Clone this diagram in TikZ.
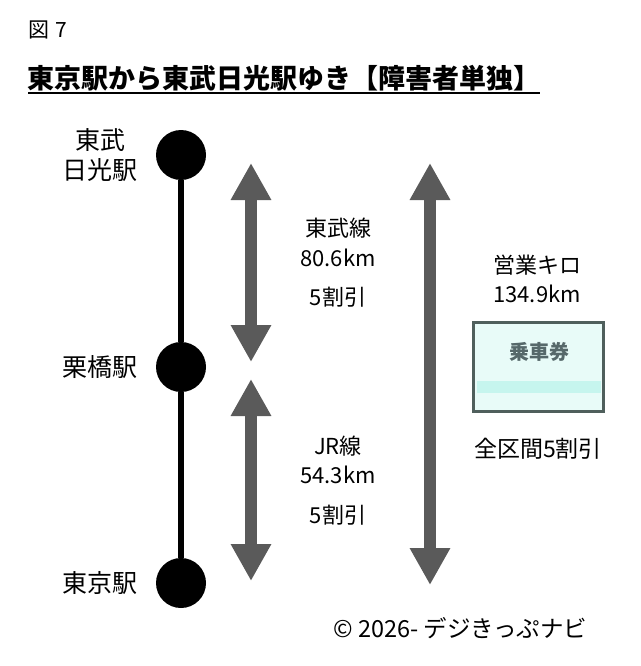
\documentclass[tikz,border=0pt]{standalone}
\usepackage{fontspec}
\setmainfont{Noto Sans CJK JP}
\usetikzlibrary{arrows.meta,positioning}

\definecolor{arrowgray}{HTML}{5A5A5A}
\definecolor{ticketedge}{HTML}{4F5F5C}
\definecolor{ticketfill}{HTML}{E8FBF8}
\definecolor{ticketband}{HTML}{C6F5EE}
\definecolor{tickettext}{HTML}{56686A}

\begin{document}
\begin{tikzpicture}[
    x=1pt, y=-1pt,
    station/.style={circle, fill=black, minimum size=50pt, inner sep=0pt},
    stlabel/.style={font=\fontsize{25}{30}\selectfont, align=center, inner sep=0pt},
    info/.style={font=\fontsize{22}{26}\selectfont, align=center, inner sep=0pt},
    bigarrow/.style={arrowgray, line width=12pt,
        {Triangle[width=38pt, length=37pt]}-{Triangle[width=38pt, length=37pt]}},
    ticket/.style={rectangle, draw=ticketedge, line width=3pt, fill=ticketfill,
        minimum width=130pt, minimum height=89pt, inner sep=0pt}
]
\useasboundingbox (0,0) rectangle (640,666);

% Heading
\node[anchor=west, inner sep=0pt, font=\fontsize{21}{24}\selectfont] (fig) at (28,30) {図\hspace{0.3em}7};
\node[anchor=west, inner sep=0pt, font=\fontsize{27}{30}\selectfont\bfseries] (title) at (27,78)
    {東京駅から東武日光駅ゆき【障害者単独】};
\draw[line width=1.5pt] (28,93) -- (540,93);

% Stations
\node[station] (nikko) at (181,155) {};
\node[station] (kurihashi) at (181,367) {};
\node[station] (tokyo) at (181,583) {};
\draw[line width=6pt] (nikko) -- (kurihashi);
\draw[line width=6pt] (kurihashi) -- (tokyo);

\node[stlabel, left=18pt of nikko] (nikkolbl) {東武\\日光駅};
\node[stlabel, left=18pt of kurihashi] (kurihashilbl) {栗橋駅};
\node[stlabel, left=18pt of tokyo] (tokyolbl) {東京駅};

% Arrows
\coordinate (tobutop) at (251,163);
\coordinate (tobubot) at (251,362);
\coordinate (jrtop) at (251,379);
\coordinate (jrbot) at (251,581);
\coordinate (alltop) at (430,163);
\coordinate (allbot) at (430,585);
\draw[bigarrow] (tobutop) -- (tobubot);
\draw[bigarrow] (jrtop) -- (jrbot);
\draw[bigarrow] (alltop) -- (allbot);

% Tobu section
\node[info] (tobuline) at (338,228) {東武線};
\node[info] (tobukm) at (338,258) {80.6km};
\node[info] (tobuoff) at (338,297) {5割引};

% JR section
\node[info] (jrline) at (338,446) {JR線};
\node[info] (jrkm) at (338,475) {54.3km};
\node[info] (jroff) at (338,515) {5割引};

% Whole route
\node[info] (eigyo) at (537,265) {営業キロ};
\node[info] (allkm) at (537,294) {134.9km};

% Ticket
\node[ticket] (tkt) at (538,367) {};
\fill[ticketband] (477,381) rectangle (601,393);
\node[font=\fontsize{20}{24}\selectfont\bfseries, text=tickettext, inner sep=0pt] (tktname) at (539,352) {乗車券};
\node[font=\fontsize{23}{26}\selectfont, inner sep=0pt, below=25pt of tkt] (alloff) {全区間5割引};

% Credit
\node[anchor=west, inner sep=0pt, font=\fontsize{23.5}{27}\selectfont] (credit) at (333,628) {© 2026- デジきっぷナビ};

\end{tikzpicture}
\end{document}
